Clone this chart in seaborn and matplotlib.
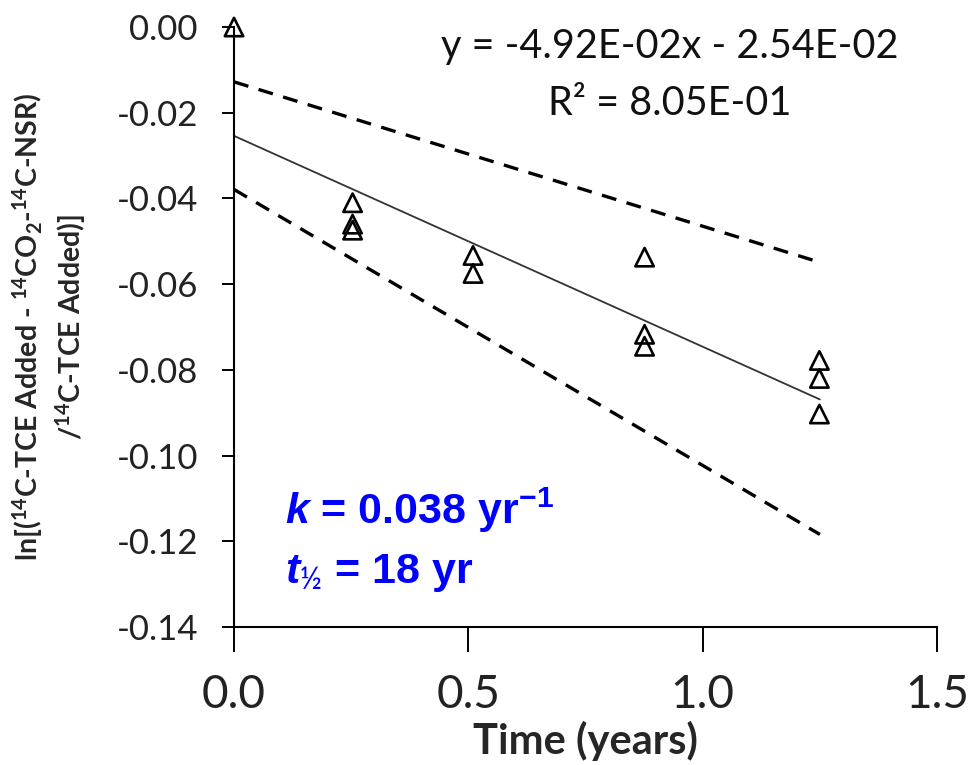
import matplotlib
matplotlib.use("Agg")
import matplotlib.pyplot as plt
import seaborn as sns
import numpy as np
import pandas as pd

# ---- data ----
time_years = [0.0, 0.253, 0.253, 0.253, 0.51, 0.51, 0.876, 0.876, 0.876, 1.249, 1.249, 1.249]
ln_ratio = [0.0, -0.0410, -0.0460, -0.0474, -0.0533, -0.0575, -0.0537, -0.0717, -0.0745, -0.0778, -0.0820, -0.0903]

fit_slope = -4.92e-02
fit_intercept = -2.54e-02
line_x = [0.0, 1.25]
upper_band = [-0.0128, -0.0549]
lower_band = [-0.0379, -0.1184]

x_ticks = [0.0, 0.5, 1.0, 1.5]
y_ticks = [0.00, -0.02, -0.04, -0.06, -0.08, -0.10, -0.12, -0.14]

eq_text = "y = -4.92E-02x - 2.54E-02"
r2_text = "R\u00b2 = 8.05E-01"

sns.set_style("ticks")
plt.rcParams["font.family"] = ["Lato", "DejaVu Sans"]
plt.rcParams["mathtext.fontset"] = "custom"
plt.rcParams["mathtext.bf"] = "Lato:bold"
plt.rcParams["mathtext.rm"] = "Lato"
plt.rcParams["mathtext.sf"] = "Liberation Sans:bold"
plt.rcParams["mathtext.it"] = "Liberation Sans:bold:italic"

fig = plt.figure(figsize=(9.71, 7.65), dpi=100)
ax = fig.add_axes([0.241, 0.1804, 0.724, 0.7843])

df = pd.DataFrame({"t": time_years, "y": ln_ratio})
fit_y = [fit_slope * x + fit_intercept for x in line_x]

sns.lineplot(x=line_x, y=fit_y, ax=ax, color="#333333", linewidth=1.3)
ax.plot(line_x, upper_band, color="black", linewidth=2.4, linestyle=(0, (4.5, 3.2)))
ax.plot(line_x, lower_band, color="black", linewidth=2.4, linestyle=(0, (4.5, 3.2)))
sns.scatterplot(data=df, x="t", y="y", ax=ax, marker="^", s=175,
                facecolor="none", edgecolor="black", linewidth=1.9,
                clip_on=False, zorder=5)

ax.set_xlim(0, 1.5)
ax.set_ylim(-0.14, 0.0)
ax.set_xticks(x_ticks)
ax.set_xticklabels([f"{v:.1f}" for v in x_ticks])
ax.set_yticks(y_ticks)
ax.set_yticklabels([f"{v:.2f}" for v in y_ticks])

for s in ["top", "right"]:
    ax.spines[s].set_visible(False)
for s in ["left", "bottom"]:
    ax.spines[s].set_linewidth(1.5)
    ax.spines[s].set_color("black")

ax.tick_params(axis="y", direction="out", length=9, width=1.4, labelsize=25, pad=17, colors="black")
ax.tick_params(axis="x", direction="out", length=18, width=1.4, labelsize=33, pad=16, colors="black")
for lab in ax.get_yticklabels():
    lab.set_color("#222222")
for lab in ax.get_xticklabels():
    lab.set_color("#222222")

ax.set_xlabel("Time (years)", fontsize=30, fontweight="bold", labelpad=3)
ax.set_ylabel(r"ln[($^{\mathbf{14}}$C-TCE Added - $^{\mathbf{14}}$CO$_{\mathbf{2}}$-$^{\mathbf{14}}$C-NSR)"
              "\n" r"/$^{\mathbf{14}}$C-TCE Added)]",
              fontsize=20.5, fontweight="bold", multialignment="center", linespacing=1.3)
ax.yaxis.set_label_coords(-0.207, 0.5)

ax.text(0.62, 0.998, eq_text, transform=ax.transAxes, fontsize=28.5, ha="center", va="top", color="#111111")
ax.text(0.62, 0.903, r2_text, transform=ax.transAxes, fontsize=28.5, ha="center", va="top", color="#111111")

blue = "#0000ff"
ax.text(0.073, 0.172, r"$k$ = 0.038 yr$^{\mathsf{-1}}$", transform=ax.transAxes,
        fontsize=31, fontweight="bold", family="Liberation Sans", color=blue, ha="left", va="baseline")
ax.text(0.073, 0.074, r"$t_{½}$ = 18 yr", transform=ax.transAxes,
        fontsize=31, fontweight="bold", family="Liberation Sans", color=blue, ha="left", va="baseline")

fig.savefig("out.png", dpi=100)
